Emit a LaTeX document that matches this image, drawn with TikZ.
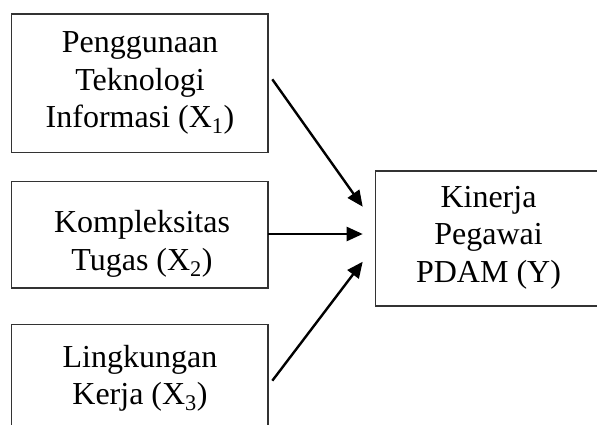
\documentclass[tikz,border=0pt]{standalone}
\usepackage{fontspec}
\setmainfont{Liberation Serif}
\usetikzlibrary{arrows.meta}
\tikzset{
  box/.style={draw=black!80, line width=1.2pt, inner sep=0pt, outer sep=0pt},
  label text/.style={align=center, inner sep=0pt, font=\fontsize{32}{37.5}\selectfont},
  link/.style={line width=2.4pt, -{Triangle[length=16pt,width=14pt]}}
}
\begin{document}
\begin{tikzpicture}[x=1pt,y=-1pt]
\useasboundingbox (0,0) rectangle (597,424);
\clip (0,0) rectangle (597,424);
\node[box, minimum width=256.3pt, minimum height=138.7pt] (b1) at (139.85,83.35) {};
\node[box, minimum width=256.5pt, minimum height=106.3pt] (b2) at (139.75,234.85) {};
\node[box, minimum width=256.5pt, minimum height=115.4pt] (b3) at (139.75,382) {};
\node[box, minimum width=234.3pt, minimum height=135pt] (by) at (492.85,238.5) {};
\node[label text] (t1) at (140,83) {Penggunaan\\Teknologi\\Informasi (X\textsubscript{1})};
\node[label text] (t2) at (142,243.8) {Kompleksitas\\Tugas (X\textsubscript{2})};
\node[label text] (t3) at (140,378.2) {Lingkungan\\Kerja (X\textsubscript{3})};
\node[label text] (ty) at (488.5,237.8) {Kinerja\\Pegawai\\PDAM (Y)};
\coordinate (a1s) at (272.3,79.3);
\coordinate (a1e) at (362.7,206.7);
\coordinate (a2s) at (268,234);
\coordinate (a2e) at (362.7,234);
\coordinate (a3s) at (272.3,380.7);
\coordinate (a3e) at (362.7,261.7);
\draw[link] (a1s) -- (a1e);
\draw[link] (a2s) -- (a2e);
\draw[link] (a3s) -- (a3e);
\end{tikzpicture}
\end{document}
